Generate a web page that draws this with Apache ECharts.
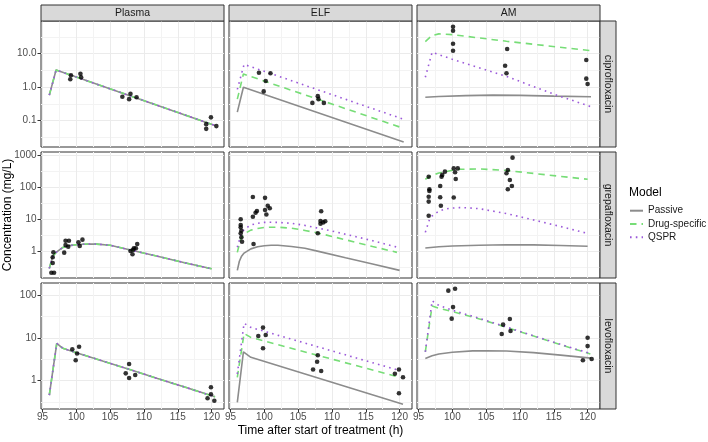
<!DOCTYPE html>
<html><head><meta charset="utf-8">
<script src="https://cdn.jsdelivr.net/npm/echarts@6/dist/echarts.min.js"></script>
<style>html,body{margin:0;padding:0;background:#fff}#c{width:708px;height:442px}</style>
</head><body><div id="c"></div>
<script>
// ---------- categories / ticks ----------
const cols = ['Plasma', 'ELF', 'AM'];
const rows = ['ciprofloxacin', 'grepafloxacin', 'levofloxacin'];
const models = ['Passive', 'Drug-specific', 'QSPR'];
const xTicks = [95, 100, 105, 110, 115, 120];
const xMinor = [97.5, 102.5, 107.5, 112.5, 117.5];
const xRange = [94.77, 121.83];
const yTicks = [[0.1, 1, 10], [1, 10, 100, 1000], [1, 10, 100]];
const yTickLabels = [['0.1', '1.0', '10.0'], ['1', '10', '100', '1000'], ['1', '10', '100']];
const yMinor = [[0.0316, 0.316, 3.16, 31.6], [0.316, 3.16, 31.6, 316], [0.316, 3.16, 31.6]];
const yRange = [[0.0164, 94.6], [0.15, 1300], [0.218, 190]];

// ---------- model curves [time h, conc mg/L] ----------
// ciprofloxacin
const plasmaCipro = [[96, 0.58], [97, 3.25], [100, 2.0], [108, 0.55], [120.5, 0.072]]; // all three models coincide
const elfCiproPassive = [[96, 0.18], [96.9, 1.0], [120.6, 0.023]];
const elfCiproDrug = [[96, 0.44], [96.9, 2.48], [120.6, 0.059]];
const elfCiproQspr = [[96, 0.86], [97, 4.8], [120.6, 0.11]];
const amCiproPassive = [[96, 0.5], [98, 0.53], [102, 0.56], [106, 0.58], [110, 0.57], [115, 0.54], [120.5, 0.52]];
const amCiproDrug = [[96, 23], [97, 35], [98, 39], [100, 37], [108, 23.5], [120.5, 12.3]];
const amCiproQspr = [[96, 1.97], [97, 11], [100, 6.8], [108, 2.1], [115.4, 0.58], [120.8, 0.25]];
// grepafloxacin
const plasmaGrepa = [[96, 0.3], [96.5, 0.72], [97, 0.95], [98, 1.35], [99, 1.55], [100, 1.64], [101, 1.7], [102, 1.73], [103, 1.72], [105, 1.58], [108, 1.12], [112, 0.72], [116, 0.45], [120, 0.29]];
const elfGrepaPassive = [[96, 0.26], [96.3, 0.5], [96.6, 0.7], [97, 0.9], [98, 1.22], [99, 1.42], [100, 1.53], [101, 1.58], [102, 1.58], [104, 1.45], [106, 1.28], [108, 1.02], [112, 0.64], [116, 0.41], [120, 0.26]];
const elfGrepaDrug = [[96, 0.95], [96.5, 2.5], [97, 3.6], [98, 4.7], [99, 5.3], [100, 5.7], [101, 5.8], [102, 5.8], [104, 5.4], [106, 4.6], [108, 3.8], [112, 2.35], [116, 1.45], [119.6, 0.95]];
const elfGrepaQspr = [[96, 1.37], [96.5, 3.2], [97, 5], [98, 6.8], [99, 7.7], [100, 8.2], [101, 8.3], [102, 8.2], [104, 7.7], [106, 6.6], [108, 5.4], [110, 4.4], [112, 3.5], [116, 2.2], [119.7, 1.37]];
const amGrepaPassive = [[96, 1.3], [98, 1.42], [100, 1.5], [104, 1.58], [108, 1.64], [112, 1.63], [116, 1.56], [120, 1.47]];
const amGrepaDrug = [[96, 183], [97, 245], [98, 285], [100, 350], [101, 375], [104, 385], [108, 345], [112, 278], [116, 225], [120, 183]];
const amGrepaQspr = [[96, 4], [96.6, 9.8], [97, 13], [98, 18.5], [99, 21.5], [100, 23], [101, 23.7], [102, 23.5], [104, 22], [108, 15.5], [112, 9.8], [116, 6.1], [119.8, 3.8]];
// levofloxacin
const plasmaLevo = [[96, 0.46], [97.1, 7.4], [98, 5.7], [100, 4.5], [104, 2.83], [108, 1.8], [112, 1.12], [116, 0.71], [120.5, 0.42]];
const elfLevoPassive = [[96, 0.31], [96.9, 4.7], [98, 3.5], [120.5, 0.28]];
const elfLevoDrug = [[96, 1.2], [97, 12.6], [98, 10.2], [120, 1.2]];
const elfLevoQspr = [[96, 1.43], [97, 21.8], [98, 17.5], [120, 1.72]];
const amLevoPassive = [[96, 3.3], [97, 3.8], [98, 4.2], [100, 4.6], [103, 4.95], [105, 5.0], [108, 4.9], [112, 4.5], [116, 3.95], [120.5, 3.35]];
const amLevoDrug = [[96, 4.7], [97, 55], [98, 49], [100, 41], [104, 27.6], [108, 17.4], [112, 11], [116, 6.9], [120.4, 4.2]];
const amLevoQspr = [[96, 4.7], [97, 73], [98, 57], [100, 44], [104, 28.5], [108, 17.8], [112, 11.2], [116, 7.0], [120.4, 4.3]];

// ---------- observations [time h, conc mg/L] ----------
const obsPlasmaCipro = [[99.1, 1.72], [99.2, 2.27], [100.6, 2.53], [100.7, 1.97], [106.8, 0.52], [107.8, 0.44], [108, 0.64], [108.9, 0.5], [119.2, 0.079], [119.2, 0.057], [119.9, 0.126], [120.7, 0.069]];
const obsElfCipro = [[99.2, 2.71], [100.2, 1.53], [100.9, 2.6], [99.9, 0.75], [107.1, 0.34], [107.9, 0.54], [108, 0.44], [108.8, 0.34]];
const obsAmCipro = [[100.1, 64], [100.1, 48.6], [100.1, 19.9], [100.1, 12.3], [108.1, 13.8], [107.8, 4.37], [108, 2.6], [119.8, 6.5], [119.8, 1.8], [120, 1.24]];
const obsPlasmaGrepa = [[96.3, 0.22], [96.7, 0.22], [96.5, 0.44], [96.5, 0.67], [96.6, 0.95], [98.2, 0.93], [98.4, 2.2], [98.4, 1.6], [98.9, 2.2], [98.8, 1.43], [100.3, 1.95], [100.5, 1.5], [100.9, 2.37], [108, 1.05], [108.3, 0.83], [108.5, 1.28], [108.8, 1.28], [109, 1.74], [108.4, 1.15]];
const obsElfGrepa = [[96.5, 10.3], [96.5, 6.8], [96.5, 5.8], [96.6, 4.5], [96.5, 3.76], [96.7, 2.04], [96.6, 2.8], [98.3, 51], [98.3, 12.3], [98.7, 16.5], [98.9, 18.7], [98.4, 1.74], [100.1, 48], [100.5, 27.3], [100.8, 22.8], [100.1, 20], [100.3, 14.4], [108.4, 18.2], [108.3, 9.1], [108.3, 7.4], [108.7, 8.2], [109, 8.9], [107.9, 3.76]];
const obsAmGrepa = [[96.5, 220], [96.6, 89], [96.6, 79], [96.5, 52], [96.5, 36.6], [96.5, 13.3], [98.2, 113], [98.2, 50], [98.3, 27.3], [98.4, 218], [98.5, 250], [98.9, 316], [100.2, 400], [100.4, 302], [100.8, 400], [100.5, 187], [100.2, 49], [108.9, 866], [108.2, 357], [108, 282], [108.5, 174], [108.8, 113], [108.2, 89]];
const obsPlasmaLevo = [[99.4, 5.4], [99.9, 3.0], [100.1, 4.3], [100.4, 6.2], [107.3, 1.48], [107.8, 2.45], [107.8, 1.15], [108.7, 1.35], [119.4, 0.39], [119.9, 0.70], [119.9, 0.48], [120.4, 0.34]];
const obsElfLevo = [[99.1, 11], [99.8, 17.3], [100.2, 11.6], [99.8, 5.7], [107.2, 1.82], [107.8, 2.76], [107.9, 3.9], [108.4, 1.68], [119.3, 1.45], [119.9, 1.82], [120.5, 1.2], [119.9, 0.51]];
const obsAmLevo = [[99.4, 126], [100.4, 140], [100.1, 52], [99.9, 28], [108.5, 27.5], [107.5, 20.3], [107.3, 12.3], [108.6, 14.4], [120, 10], [120, 6.4], [119.3, 3.0], [120.6, 3.2]];

// ---------- assemble ----------
const panelCurves = [
  [[plasmaCipro, plasmaCipro, plasmaCipro], [elfCiproPassive, elfCiproDrug, elfCiproQspr], [amCiproPassive, amCiproDrug, amCiproQspr]],
  [[plasmaGrepa, plasmaGrepa, plasmaGrepa], [elfGrepaPassive, elfGrepaDrug, elfGrepaQspr], [amGrepaPassive, amGrepaDrug, amGrepaQspr]],
  [[plasmaLevo, plasmaLevo, plasmaLevo], [elfLevoPassive, elfLevoDrug, elfLevoQspr], [amLevoPassive, amLevoDrug, amLevoQspr]]
];
const panelObs = [
  [obsPlasmaCipro, obsElfCipro, obsAmCipro],
  [obsPlasmaGrepa, obsElfGrepa, obsAmGrepa],
  [obsPlasmaLevo, obsElfLevo, obsAmLevo]
];

const FONT = '"Liberation Sans", Arial, Helvetica, sans-serif';
const colLeft = [41, 229, 417], rowTop = [21, 152, 283], PW = 183, PH = 126;
const lineColors = ['#8c8c8c', '#77dd77', '#9b59d9'];
const lineTypes = ['solid', [6.5, 5], [1.6, 4.2]];

const grids = [], xAxes = [], yAxes = [], series = [], graphics = [];
const minorX = [], minorY = [];

rows.forEach((rowName, r) => {
  cols.forEach((colName, c) => {
    const i = r * 3 + c;
    grids.push({ left: colLeft[c], top: rowTop[r], width: PW, height: PH, show: true,
      borderColor: '#333333', borderWidth: 1, backgroundColor: '#ffffff' });
    xAxes.push({ gridIndex: i, type: 'value', min: xRange[0], max: xRange[1], position: 'bottom',
      axisLine: { show: false },
      axisTick: { show: r === 2, length: 3.5, lineStyle: { color: '#333333' }, customValues: xTicks },
      axisLabel: { show: r === 2, customValues: xTicks, color: '#4d4d4d', fontSize: 10, margin: 3.5, fontFamily: FONT },
      splitLine: { show: true, lineStyle: { color: '#ebebeb', width: 1 } } });
    minorX.push({ gridIndex: i, type: 'value', min: xRange[0], max: xRange[1], position: 'top',
      axisLine: { show: false }, axisLabel: { show: false },
      axisTick: { show: false, customValues: xMinor },
      splitLine: { show: true, lineStyle: { color: '#f3f3f3', width: 1 } } });
    const yt = yTicks[r], yl = yTickLabels[r];
    yAxes.push({ gridIndex: i, type: 'log', logBase: 10, min: yRange[r][0], max: yRange[r][1], position: 'left',
      axisLine: { show: false },
      axisTick: { show: c === 0, length: 3.5, lineStyle: { color: '#333333' }, customValues: yt },
      axisLabel: { show: c === 0, customValues: yt, color: '#4d4d4d', fontSize: 10, margin: 4.5, fontFamily: FONT,
        formatter: v => { const k = yt.findIndex(t => Math.abs(Math.log10(t / v)) < 1e-6); return k >= 0 ? yl[k] : ''; } },
      splitLine: { show: true, lineStyle: { color: '#ebebeb', width: 1 } } });
    minorY.push({ gridIndex: i, type: 'log', logBase: 10, min: yRange[r][0], max: yRange[r][1], position: 'right',
      axisLine: { show: false }, axisLabel: { show: false },
      axisTick: { show: false, customValues: yMinor[r] },
      splitLine: { show: true, lineStyle: { color: '#f3f3f3', width: 1 } } });

    models.forEach((m, k) => {
      series.push({ type: 'line', name: m, xAxisIndex: i, yAxisIndex: i, data: panelCurves[r][c][k],
        symbol: 'none', showSymbol: false, silent: true, z: 2 + k,
        lineStyle: { color: lineColors[k], width: 1.6, type: lineTypes[k], cap: 'butt' },
        itemStyle: { color: lineColors[k] } });
    });
    series.push({ type: 'scatter', name: 'obs', xAxisIndex: i, yAxisIndex: i, data: panelObs[r][c],
      symbol: 'circle', symbolSize: 4.6, itemStyle: { color: '#000000' }, silent: true, z: 6 });

    if (r === 0) {
      graphics.push({ type: 'rect', shape: { x: colLeft[c], y: 5, width: PW, height: 16 },
        style: { fill: '#d9d9d9', stroke: '#333333', lineWidth: 1 }, z: 10 });
      graphics.push({ type: 'text', x: colLeft[c] + PW / 2, y: 13.5, z: 11,
        style: { text: colName, fill: '#1a1a1a', fontSize: 10.5, fontFamily: FONT, textAlign: 'center', textVerticalAlign: 'middle' } });
    }
  });
  graphics.push({ type: 'rect', shape: { x: 600, y: rowTop[r], width: 16, height: PH },
    style: { fill: '#d9d9d9', stroke: '#333333', lineWidth: 1 }, z: 10 });
  graphics.push({ type: 'text', x: 608, y: rowTop[r] + PH / 2, rotation: -Math.PI / 2, z: 11,
    style: { text: rowName, fill: '#1a1a1a', fontSize: 10.5, fontFamily: FONT, textAlign: 'center', textVerticalAlign: 'middle' } });
});

graphics.push({ type: 'text', x: 320.5, y: 431, z: 11,
  style: { text: 'Time after start of treatment (h)', fill: '#000', fontSize: 12, fontFamily: FONT, textAlign: 'center', textVerticalAlign: 'middle' } });
graphics.push({ type: 'text', x: 8, y: 215, rotation: Math.PI / 2, z: 11,
  style: { text: 'Concentration (mg/L)', fill: '#000', fontSize: 12, fontFamily: FONT, textAlign: 'center', textVerticalAlign: 'middle' } });
graphics.push({ type: 'text', x: 629, y: 193, z: 11,
  style: { text: 'Model', fill: '#000', fontSize: 12, fontFamily: FONT, textAlign: 'left', textVerticalAlign: 'middle' } });

const option = {
  animation: false,
  backgroundColor: '#ffffff',
  textStyle: { fontFamily: FONT },
  grid: grids,
  xAxis: xAxes.concat(minorX),
  yAxis: yAxes.concat(minorY),
  legend: { data: models, orient: 'vertical', left: 629, top: 205.7, padding: 0, itemWidth: 13, itemHeight: 10, itemGap: 3.3,
    selectedMode: false, itemStyle: { opacity: 0 },
    textStyle: { fontSize: 10, color: '#1a1a1a', fontFamily: FONT } },
  series: series,
  graphic: graphics
};
const chart = echarts.init(document.getElementById('c'), null, { renderer: 'canvas' });
chart.setOption(option);
</script></body></html>
